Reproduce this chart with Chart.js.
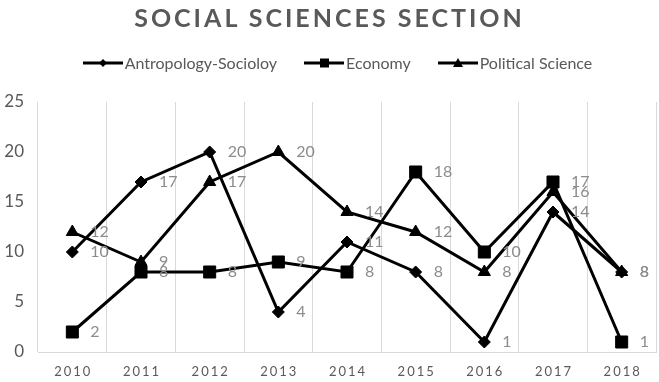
<!DOCTYPE html>
<html>
<head>
<meta charset="utf-8">
<script src="https://cdn.jsdelivr.net/npm/chart.js@4.4.1/dist/chart.umd.min.js"></script>
<style>
  html, body { margin:0; padding:0; background:#fff; }
  #wrap { position:relative; width:659px; height:382px; overflow:hidden; font-family: Lato, "Open Sans", sans-serif; }
  #title { position:absolute; top:2px; left:0; width:659px; text-align:center; font-size:25px; font-weight:bold; letter-spacing:3px; color:#595959; }
  #legend { position:absolute; top:53px; left:0; width:659px; display:flex; justify-content:center; gap:27px; font-size:16px; color:#595959; padding-left:16px; box-sizing:border-box; }
  #legend .it { display:flex; align-items:center; }
  #legend svg { margin-right:2px; }
  canvas { position:absolute; top:0; left:0; }
</style>
</head>
<body>
<div id="wrap">
  <canvas id="chart" width="659" height="382"></canvas>
  <div id="title">SOCIAL SCIENCES SECTION</div>
  <div id="legend"></div>
</div>
<script>
// Datos
const years = ['2010','2011','2012','2013','2014','2015','2016','2017','2018'];
const antropologia = [10, 17, 20, 4, 11, 8, 1, 14, 8];
const economia = [2, 8, 8, 9, 8, 18, 10, 17, 1];
const politica = [12, 9, 17, 20, 14, 12, 8, 16, 8];
const seriesNames = ['Antropology-Socioloy', 'Economy', 'Political Science'];
const yTicks = [0, 5, 10, 15, 20, 25];

(function(){
  const styles = [
    { pointStyle:'rectRot', radius:6 },
    { pointStyle:'rect', radius:8.5 },
    { pointStyle:'triangle', radius:7 }
  ];
  const values = [antropologia, economia, politica];

  // leyenda en HTML (línea + marcador)
  const icons = [
    '<polygon points="20,3 24,7 20,11 16,7" fill="#000"/>',
    '<rect x="16" y="2.5" width="9" height="9" fill="#000"/>',
    '<polygon points="20,2 25,11 15,11" fill="#000"/>'
  ];
  const leg = document.getElementById('legend');
  leg.innerHTML = seriesNames.map((n,i) =>
    `<div class="it"><svg width="40" height="14"><line x1="0" y1="7" x2="40" y2="7" stroke="#000" stroke-width="3"/>${icons[i]}</svg><span>${n}</span></div>`
  ).join('');

  // etiquetas de datos a la derecha de cada punto
  const dataLabels = {
    id:'dataLabels',
    afterDatasetsDraw(chart){
      const ctx = chart.ctx;
      ctx.save();
      ctx.font = '16px Lato, sans-serif';
      ctx.fillStyle = '#8c8c8c';
      ctx.textBaseline = 'middle';
      ctx.textAlign = 'left';
      chart.data.datasets.forEach((ds, di) => {
        chart.getDatasetMeta(di).data.forEach((pt, i) => {
          ctx.fillText(String(ds.data[i]), pt.x + 18, pt.y);
        });
      });
      ctx.restore();
    }
  };

  // años del eje X con espaciado entre letras
  const xLabels = {
    id:'xLabels',
    afterDraw(chart){
      const sc = chart.scales.x, ctx = chart.ctx;
      ctx.save();
      ctx.font = '13px Lato, sans-serif';
      try { ctx.letterSpacing = '2px'; } catch(_){}
      ctx.fillStyle = '#595959';
      ctx.textAlign = 'center';
      ctx.textBaseline = 'middle';
      years.forEach((y, i) => ctx.fillText(y, sc.getPixelForValue(i) + 1, sc.top + 20));
      ctx.restore();
    }
  };

  // fijar el área del gráfico al ancho del original
  const fixArea = {
    id:'fixArea',
    afterLayout(chart){
      const x = chart.scales.x, a = chart.chartArea;
      const right = 656;
      a.right = right; a.width = right - a.left;
      x.right = right; x.width = right - x.left;
      x.configure();
    }
  };

  new Chart(document.getElementById('chart'), {
    type:'line',
    data:{
      labels: years,
      datasets: values.map((v,i) => ({
        label: seriesNames[i], data: v,
        borderColor:'#000', backgroundColor:'#000', borderWidth:3,
        pointStyle: styles[i].pointStyle, pointRadius: styles[i].radius, pointHoverRadius: styles[i].radius,
        pointBackgroundColor:'#000', pointBorderColor:'#000', pointBorderWidth:1,
        tension:0, fill:false
      }))
    },
    options:{
      responsive:false, animation:false,
      layout:{ padding:{ top:102, right:0, left:0, bottom:0 } },
      plugins:{ legend:{ display:false }, title:{ display:false }, tooltip:{ enabled:false } },
      scales:{
        x:{
          offset:true,
          grid:{ display:true, offset:true, color:'#d9d9d9', drawTicks:false },
          border:{ display:true, color:'#d9d9d9' },
          ticks:{ display:false },
          afterFit(s){ s.height = 30; }
        },
        y:{
          min:0, max:25,
          afterBuildTicks(s){ s.ticks = yTicks.map(v => ({ value:v })); },
          grid:{ display:false, drawTicks:false },
          border:{ display:false },
          ticks:{ color:'#595959', font:{ family:'Lato, sans-serif', size:17 }, padding:14 },
          afterFit(s){ s.width = 38; }
        }
      }
    },
    plugins:[fixArea, dataLabels, xLabels]
  });
})();
</script>
</body>
</html>
